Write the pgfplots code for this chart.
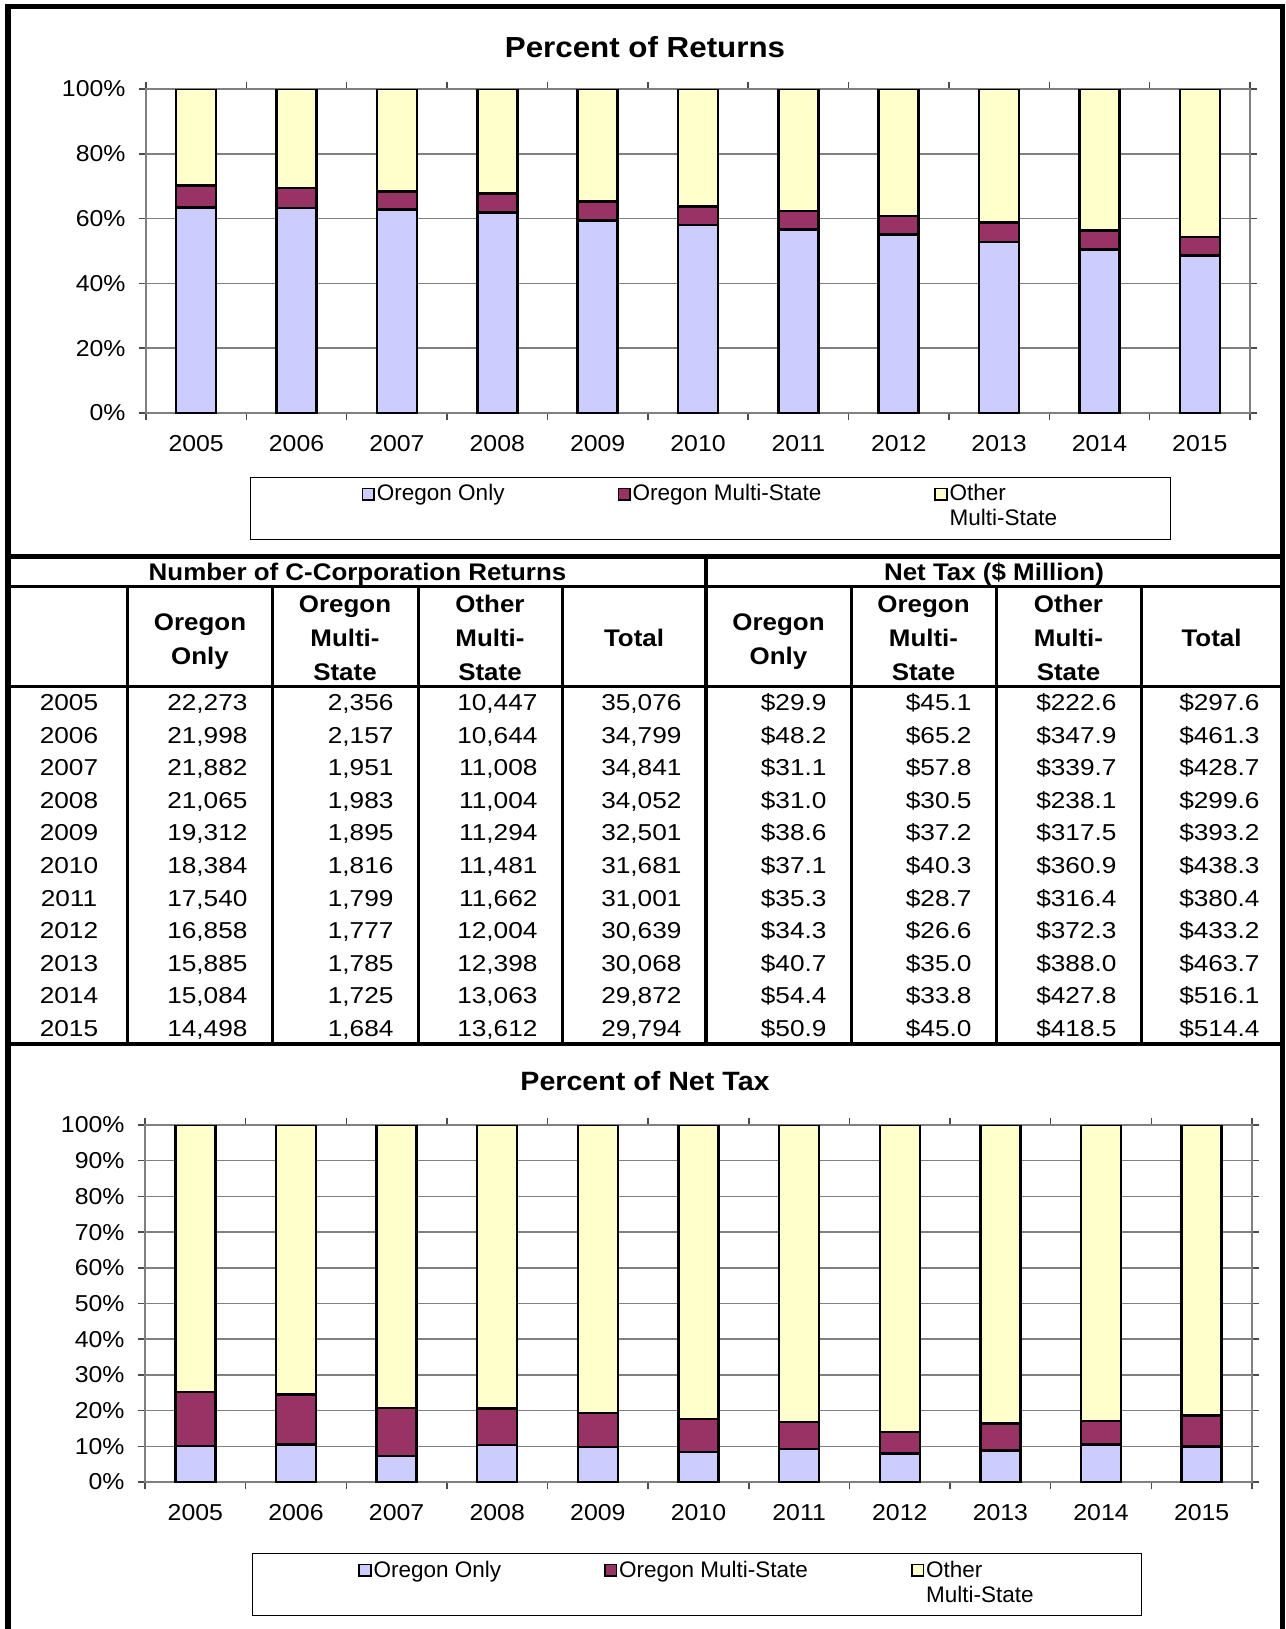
\documentclass[border=0pt]{standalone}
\usepackage{fontspec}
\setmainfont{Liberation Sans}[FakeStretch=1.08]
\newfontfamily\tabfont{Liberation Sans}[FakeStretch=1.14]
\newfontfamily\legfont{Liberation Sans}
\usepackage{pgfplots}
\pgfplotsset{compat=1.18}

\definecolor{orOnly}{HTML}{CCCCFF}
\definecolor{orMulti}{HTML}{993366}
\definecolor{otMulti}{HTML}{FFFFCC}
\definecolor{gridg}{HTML}{808080}

\newcommand\tf{\fontsize{23bp}{27bp}\selectfont}
\newcommand\df{\tabfont\fontsize{23bp}{27bp}\selectfont}
\newcommand\hf{\fontsize{24bp}{34bp}\selectfont\bfseries}
\newcommand\lf{\legfont\fontsize{22.5bp}{25bp}\selectfont}

\pgfplotsset{
  sqleg/.style={legend image code/.code={\draw[##1,line width=1.6bp] (0bp,1bp) rectangle (11.5bp,12.5bp);}},
  pctbar/.style={
    ybar stacked, scale only axis,
    xmin=-0.5, xmax=10.5, ymin=0, ymax=100,
    bar width=40bp,
    xtick={-0.5,0.5,...,10.5}, xticklabels={,,,,,,,,,,,,},
    extra x ticks={0,1,2,3,4,5,6,7,8,9,10},
    extra x tick labels={2005,2006,2007,2008,2009,2010,2011,2012,2013,2014,2015},
    extra x tick style={major tick length=0bp},
    xticklabel style={yshift=-18.5bp},
    yticklabel style={xshift=-10bp},
    tick align=outside, major tick length=7bp,
    ymajorgrids, grid style={draw=gridg, line width=1.5bp},
    axis line style={draw=gridg, line width=2bp},
    tick style={draw=black!70, line width=1.5bp},
    tick label style={font=\tf},
    legend columns=3,
    legend style={draw=black, line width=1bp, font=\lf, anchor=north,
      cells={anchor=base west}, nodes={inner sep=2bp, text depth=},
      inner ysep=4bp},
  }
}

\begin{document}
\begin{tikzpicture}
\path[use as bounding box] (0bp,0bp) rectangle (1286bp,-1629bp);

% ---------- Percent of Returns ----------
\begin{axis}[pctbar, at={(146bp,-413bp)}, anchor=south west,
  width=1104bp, height=324bp,
  ytick={0,20,40,60,80,100},
  yticklabels={0\%,20\%,40\%,60\%,80\%,100\%},
  legend style={at={(0.5113,-0.1975)}, inner xsep=111bp,
    /tikz/every even column/.append style={column sep=111bp}}]
\addplot[fill=orOnly, draw=black, line width=2.5bp, sqleg] coordinates
  {(0,63.50) (1,63.21) (2,62.81) (3,61.86) (4,59.42) (5,58.03) (6,56.58) (7,55.02) (8,52.83) (9,50.50) (10,48.66)};
\addplot[fill=orMulti, draw=black, line width=2.5bp, sqleg] coordinates
  {(0,6.72) (1,6.20) (2,5.60) (3,5.82) (4,5.83) (5,5.73) (6,5.80) (7,5.80) (8,5.94) (9,5.77) (10,5.65)};
\addplot[fill=otMulti, draw=black, line width=2.5bp, sqleg] coordinates
  {(0,29.78) (1,30.59) (2,31.59) (3,32.32) (4,34.75) (5,36.24) (6,37.62) (7,39.18) (8,41.23) (9,43.73) (10,45.69)};
\legend{Oregon Only,Oregon Multi-State,{\begin{tabular}[t]{@{}l@{}}Other\\Multi-State\end{tabular}}}
\end{axis}

% ---------- Percent of Net Tax ----------
\begin{axis}[pctbar, at={(145bp,-1482bp)}, anchor=south west,
  width=1107bp, height=357bp,
  ytick={0,10,...,100},
  yticklabels={0\%,10\%,20\%,30\%,40\%,50\%,60\%,70\%,80\%,90\%,100\%},
  legend style={at={(0.4987,-0.1989)}, inner xsep=106bp,
    /tikz/every even column/.append style={column sep=101bp}}]
\addplot[fill=orOnly, draw=black, line width=2.5bp, sqleg] coordinates
  {(0,10.05) (1,10.45) (2,7.25) (3,10.35) (4,9.82) (5,8.46) (6,9.28) (7,7.92) (8,8.78) (9,10.54) (10,9.89)};
\addplot[fill=orMulti, draw=black, line width=2.5bp, sqleg] coordinates
  {(0,15.15) (1,14.13) (2,13.48) (3,10.18) (4,9.46) (5,9.19) (6,7.54) (7,6.14) (8,7.55) (9,6.55) (10,8.75)};
\addplot[fill=otMulti, draw=black, line width=2.5bp, sqleg] coordinates
  {(0,74.80) (1,75.42) (2,79.27) (3,79.47) (4,80.72) (5,82.35) (6,83.18) (7,85.94) (8,83.67) (9,82.91) (10,81.36)};
\legend{Oregon Only,Oregon Multi-State,{\begin{tabular}[t]{@{}l@{}}Other\\Multi-State\end{tabular}}}
\end{axis}

\begin{scope}[x=1bp,y=-1bp]
% titles
\node[font=\fontsize{29bp}{34bp}\selectfont\bfseries] at (645,47) {Percent of Returns};
\node[font=\fontsize{26.5bp}{32bp}\selectfont\bfseries] at (645,1081) {Percent of Net Tax};

% frame and table rules
\draw[line width=5bp] (8,4) -- (8,1629);
\draw[line width=5bp] (1282,4) -- (1282,1629);
\draw[line width=5bp] (5.5,6.5) -- (1284.5,6.5);
\draw[line width=5bp] (8,556) -- (1282,556);
\draw[line width=3bp] (8,586) -- (1282,586);
\draw[line width=3bp] (8,686) -- (1282,686);
\draw[line width=4bp] (8,1044) -- (1282,1044);
\foreach \cx in {127.5,272.5,418,562,851,996,1141.5}
  \draw[line width=3bp] (\cx,586) -- (\cx,1044);
\draw[line width=4bp] (706,556) -- (706,1044);

% header texts
\node[font=\hf] at (357.5,574) {Number of C-Corporation Returns};
\node[font=\hf] at (994,574) {Net Tax (\$ Million)};
\foreach \cx/\t in {345/{Oregon\\Multi-\\State},490/{Other\\Multi-\\State},634/{Total},
                    923.5/{Oregon\\Multi-\\State},1068.5/{Other\\Multi-\\State},1211.5/{Total}}
  \node[font=\hf, align=center] at (\cx,638) {\t};
\foreach \cx in {200,778.5}
  \node[font=\hf, align=center] at (\cx,641.5) {Oregon\\Only};

% data rows
\newcommand\trow[9]{%
  \pgfmathsetmacro\ry{686+32.55*(#1-0.5)+8.5}%
  \node[font=\df, anchor=base] at (69,\ry) {#2};%
  \node[font=\df, anchor=base east] at (251,\ry) {#3};%
  \node[font=\df, anchor=base east] at (397,\ry) {#4};%
  \node[font=\df, anchor=base east] at (541,\ry) {#5};%
  \node[font=\df, anchor=base east] at (685,\ry) {#6};%
  \node[font=\df, anchor=base east] at (830,\ry) {#7};%
  \node[font=\df, anchor=base east] at (975,\ry) {#8};%
  \node[font=\df, anchor=base east] at (1120,\ry) {#9};%
}
\newcommand\trowtot[2]{%
  \pgfmathsetmacro\ry{686+32.55*(#1-0.5)+8.5}%
  \node[font=\df, anchor=base east] at (1263,\ry) {#2};%
}
\trow{1}{2005}{22,273}{2,356}{10,447}{35,076}{\$29.9}{\$45.1}{\$222.6}\trowtot{1}{\$297.6}
\trow{2}{2006}{21,998}{2,157}{10,644}{34,799}{\$48.2}{\$65.2}{\$347.9}\trowtot{2}{\$461.3}
\trow{3}{2007}{21,882}{1,951}{11,008}{34,841}{\$31.1}{\$57.8}{\$339.7}\trowtot{3}{\$428.7}
\trow{4}{2008}{21,065}{1,983}{11,004}{34,052}{\$31.0}{\$30.5}{\$238.1}\trowtot{4}{\$299.6}
\trow{5}{2009}{19,312}{1,895}{11,294}{32,501}{\$38.6}{\$37.2}{\$317.5}\trowtot{5}{\$393.2}
\trow{6}{2010}{18,384}{1,816}{11,481}{31,681}{\$37.1}{\$40.3}{\$360.9}\trowtot{6}{\$438.3}
\trow{7}{2011}{17,540}{1,799}{11,662}{31,001}{\$35.3}{\$28.7}{\$316.4}\trowtot{7}{\$380.4}
\trow{8}{2012}{16,858}{1,777}{12,004}{30,639}{\$34.3}{\$26.6}{\$372.3}\trowtot{8}{\$433.2}
\trow{9}{2013}{15,885}{1,785}{12,398}{30,068}{\$40.7}{\$35.0}{\$388.0}\trowtot{9}{\$463.7}
\trow{10}{2014}{15,084}{1,725}{13,063}{29,872}{\$54.4}{\$33.8}{\$427.8}\trowtot{10}{\$516.1}
\trow{11}{2015}{14,498}{1,684}{13,612}{29,794}{\$50.9}{\$45.0}{\$418.5}\trowtot{11}{\$514.4}
\end{scope}
\end{tikzpicture}
\end{document}
